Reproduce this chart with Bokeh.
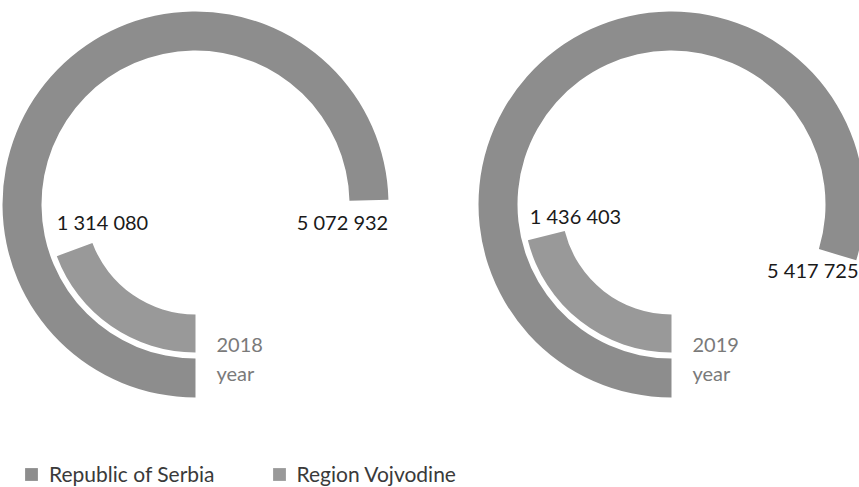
import math
from bokeh.plotting import figure
from bokeh.models import Range1d, Legend, LegendItem, ColumnDataSource
from bokeh.embed import file_html
from bokeh.resources import INLINE
from bokeh.core.properties import value

# ---------------- data ----------------
years = ["2018", "2019"]
year_word = ["year", "year"]
series_names = ["Republic of Serbia", "Region Vojvodine"]
serbia = [5072932, 5417725]
vojvodina = [1314080, 1436403]
SCALE_MAX = 6_800_000  # value of a full circle


def fmt(v):
    return f"{v:,}".replace(",", " ")


# ---------------- layout / style ----------------
W, H = 859, 487
centers_x = [195, 671]
center_y = 283
outer_ring = (154, 193)   # Republic of Serbia
inner_ring = (110, 148)   # Region Vojvodine
col_serbia = "#8d8d8d"
col_vojv = "#999999"
FONT = "Lato"

start = -math.pi / 2


def end_angles(vals):
    return [start - v / SCALE_MAX * 2 * math.pi for v in vals]


src_s = ColumnDataSource(dict(x=centers_x, y=[center_y] * 2,
                              start=[start] * 2, end=end_angles(serbia)))
src_v = ColumnDataSource(dict(x=centers_x, y=[center_y] * 2,
                              start=[start] * 2, end=end_angles(vojvodina)))

p = figure(width=W, height=H, x_range=Range1d(0, W), y_range=Range1d(0, H),
           output_backend="svg", toolbar_location=None, min_border=0,
           x_axis_location=None, y_axis_location=None)
p.grid.visible = False
p.outline_line_color = None
p.background_fill_color = "white"

r_s = p.annular_wedge(x="x", y="y", inner_radius=outer_ring[0], outer_radius=outer_ring[1],
                      start_angle="start", end_angle="end", direction="clock",
                      fill_color=col_serbia, line_color=None, source=src_s)
r_v = p.annular_wedge(x="x", y="y", inner_radius=inner_ring[0], outer_radius=inner_ring[1],
                      start_angle="start", end_angle="end", direction="clock",
                      fill_color=col_vojv, line_color=None, source=src_v)

# value labels
vojv_lab_x = [102, 575]
vojv_lab_y = [266, 272]
serb_lab_x = [342, 858]
serb_lab_y = [266, 218]
serb_align = ["center", "right"]

p.text(x=vojv_lab_x, y=vojv_lab_y, text=[fmt(v) for v in vojvodina],
       text_font=value(FONT), text_font_size="20px", text_color="#1a1a1a",
       text_align="center", text_baseline="middle")
src_sl = ColumnDataSource(dict(x=serb_lab_x, y=serb_lab_y,
                               t=[fmt(v) for v in serbia], a=serb_align))
p.text(x="x", y="y", text="t", text_align="a", source=src_sl,
       text_font=value(FONT), text_font_size="20px", text_color="#1a1a1a",
       text_baseline="middle")

# year labels
year_x = [216, 692]
p.text(x=year_x, y=[143, 143], text=years, text_font=value(FONT),
       text_font_size="20px", text_color="#7a7a7a", text_align="left",
       text_baseline="middle")
p.text(x=year_x, y=[115, 115], text=year_word, text_font=value(FONT),
       text_font_size="20px", text_color="#7a7a7a", text_align="left",
       text_baseline="middle")

legend = Legend(items=[LegendItem(label=series_names[0], renderers=[r_s]),
                       LegendItem(label=series_names[1], renderers=[r_v])],
                orientation="horizontal", location=(23, 1),
                glyph_width=16, glyph_height=16, label_height=16,
                label_standoff=10, spacing=56, padding=0, margin=0,
                label_text_font=FONT, label_text_font_size="21px",
                label_text_color="#3a3a3a",
                border_line_alpha=0, background_fill_alpha=0)
p.add_layout(legend)

open("out.html", "w").write(file_html(p, INLINE))
